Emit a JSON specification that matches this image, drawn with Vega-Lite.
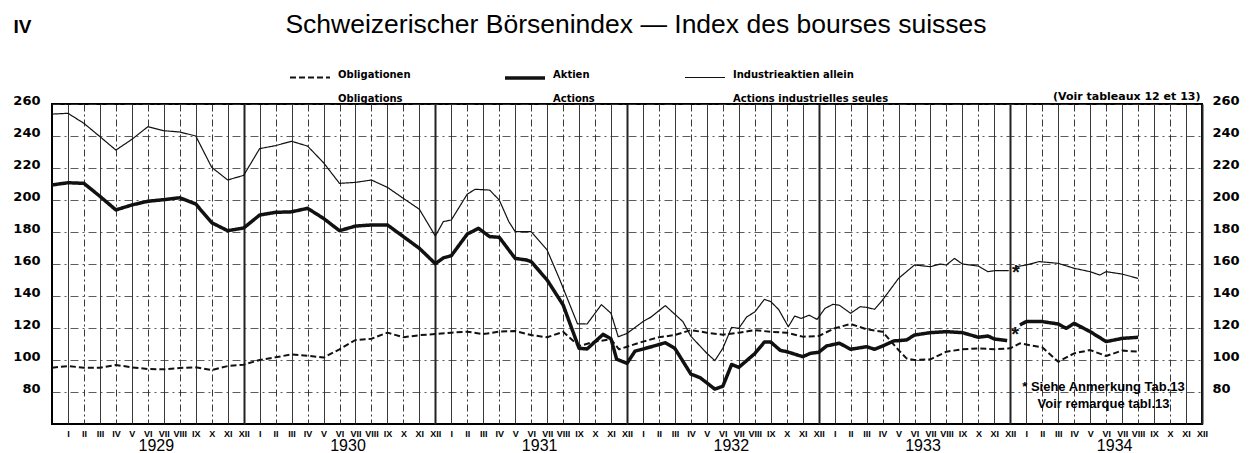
{
  "$schema": "https://vega.github.io/schema/vega-lite/v6.json",
  "width": 1150,
  "height": 320,
  "autosize": {"type": "none"},
  "padding": {"left": 52, "top": 104, "right": 57, "bottom": 29},
  "background": "white",
  "config": {
    "view": {"stroke": "black", "strokeWidth": 2},
    "font": "Liberation Sans",
    "style": {"guide-label": {"lineHeight": 24}}
  },
  "title": {
    "text": "Schweizerischer Börsenindex — Index des bourses suisses",
    "font": "Liberation Sans",
    "fontSize": 26.5,
    "fontWeight": "normal",
    "color": "black",
    "anchor": "middle",
    "frame": "group",
    "baseline": "alphabetic",
    "offset": -42,
    "dx": 9
  },
  "datasets": {
    "lines": [
      {"s":"Obligationen","seg":"a","m":0,"v":95.2},{"s":"Obligationen","seg":"a","m":1,"v":96.2},{"s":"Obligationen","seg":"a","m":2,"v":95.2},{"s":"Obligationen","seg":"a","m":3,"v":95.2},{"s":"Obligationen","seg":"a","m":4,"v":96.9},{"s":"Obligationen","seg":"a","m":5,"v":95.4},{"s":"Obligationen","seg":"a","m":6,"v":94.4},{"s":"Obligationen","seg":"a","m":7,"v":94.2},{"s":"Obligationen","seg":"a","m":8,"v":95},{"s":"Obligationen","seg":"a","m":9,"v":95.4},{"s":"Obligationen","seg":"a","m":10,"v":93.7},{"s":"Obligationen","seg":"a","m":11,"v":96.2},{"s":"Obligationen","seg":"a","m":12,"v":97.1},{"s":"Obligationen","seg":"a","m":13,"v":100},{"s":"Obligationen","seg":"a","m":14,"v":101.7},{"s":"Obligationen","seg":"a","m":15,"v":103.5},{"s":"Obligationen","seg":"a","m":16,"v":102.7},{"s":"Obligationen","seg":"a","m":17,"v":101.5},{"s":"Obligationen","seg":"a","m":18,"v":106.7},{"s":"Obligationen","seg":"a","m":19,"v":112.5},{"s":"Obligationen","seg":"a","m":20,"v":113.3},{"s":"Obligationen","seg":"a","m":21,"v":117.1},{"s":"Obligationen","seg":"a","m":22,"v":114.2},{"s":"Obligationen","seg":"a","m":23,"v":115.5},{"s":"Obligationen","seg":"a","m":24,"v":116.2},{"s":"Obligationen","seg":"a","m":25,"v":117.1},{"s":"Obligationen","seg":"a","m":26,"v":117.7},{"s":"Obligationen","seg":"a","m":27,"v":116.2},{"s":"Obligationen","seg":"a","m":28,"v":117.7},{"s":"Obligationen","seg":"a","m":29,"v":118.1},{"s":"Obligationen","seg":"a","m":30,"v":115.6},{"s":"Obligationen","seg":"a","m":31,"v":114.2},{"s":"Obligationen","seg":"a","m":32,"v":117.6},{"s":"Obligationen","seg":"a","m":33,"v":108.7},{"s":"Obligationen","seg":"a","m":34,"v":111.5},{"s":"Obligationen","seg":"a","m":35,"v":112.9},{"s":"Obligationen","seg":"a","m":35.5,"v":106.7},{"s":"Obligationen","seg":"a","m":36,"v":108.3},{"s":"Obligationen","seg":"a","m":37,"v":111.5},{"s":"Obligationen","seg":"a","m":38,"v":114.2},{"s":"Obligationen","seg":"a","m":39,"v":115.6},{"s":"Obligationen","seg":"a","m":40,"v":118.7},{"s":"Obligationen","seg":"a","m":41,"v":117.1},{"s":"Obligationen","seg":"a","m":42,"v":115.8},{"s":"Obligationen","seg":"a","m":43,"v":117.1},{"s":"Obligationen","seg":"a","m":44,"v":118.7},{"s":"Obligationen","seg":"a","m":45,"v":117.6},{"s":"Obligationen","seg":"a","m":46,"v":117},{"s":"Obligationen","seg":"a","m":47,"v":114.6},{"s":"Obligationen","seg":"a","m":48,"v":115},{"s":"Obligationen","seg":"a","m":49,"v":119.8},{"s":"Obligationen","seg":"a","m":50,"v":122.5},{"s":"Obligationen","seg":"a","m":51,"v":119.2},{"s":"Obligationen","seg":"a","m":52,"v":117.7},{"s":"Obligationen","seg":"a","m":53,"v":106.2},{"s":"Obligationen","seg":"a","m":53.5,"v":101},{"s":"Obligationen","seg":"a","m":54,"v":100},{"s":"Obligationen","seg":"a","m":55,"v":100.4},{"s":"Obligationen","seg":"a","m":56,"v":105.2},{"s":"Obligationen","seg":"a","m":57,"v":106.7},{"s":"Obligationen","seg":"a","m":58,"v":107.3},{"s":"Obligationen","seg":"a","m":59,"v":106.7},{"s":"Obligationen","seg":"a","m":60,"v":107.3},{"s":"Obligationen","seg":"a","m":60.6,"v":110.4},{"s":"Obligationen","seg":"a","m":62,"v":107.9},{"s":"Obligationen","seg":"a","m":63,"v":98.9},{"s":"Obligationen","seg":"a","m":64,"v":104.2},{"s":"Obligationen","seg":"a","m":65,"v":106.2},{"s":"Obligationen","seg":"a","m":66,"v":102.5},{"s":"Obligationen","seg":"a","m":67,"v":105.9},{"s":"Obligationen","seg":"a","m":68,"v":105.2},

      {"s":"Aktien","seg":"a","m":0,"v":209.4},{"s":"Aktien","seg":"a","m":1,"v":210.8},{"s":"Aktien","seg":"a","m":2,"v":210.4},{"s":"Aktien","seg":"a","m":3,"v":202.3},{"s":"Aktien","seg":"a","m":4,"v":193.8},{"s":"Aktien","seg":"a","m":5,"v":196.9},{"s":"Aktien","seg":"a","m":6,"v":199.2},{"s":"Aktien","seg":"a","m":7,"v":200.2},{"s":"Aktien","seg":"a","m":8,"v":201.4},{"s":"Aktien","seg":"a","m":9,"v":197.5},{"s":"Aktien","seg":"a","m":10,"v":185.8},{"s":"Aktien","seg":"a","m":11,"v":180.8},{"s":"Aktien","seg":"a","m":12,"v":182.5},{"s":"Aktien","seg":"a","m":13,"v":190.6},{"s":"Aktien","seg":"a","m":14,"v":192.3},{"s":"Aktien","seg":"a","m":15,"v":192.6},{"s":"Aktien","seg":"a","m":16,"v":194.8},{"s":"Aktien","seg":"a","m":17,"v":188.5},{"s":"Aktien","seg":"a","m":18,"v":180.8},{"s":"Aktien","seg":"a","m":19,"v":183.7},{"s":"Aktien","seg":"a","m":20,"v":184.4},{"s":"Aktien","seg":"a","m":21,"v":184.4},{"s":"Aktien","seg":"a","m":22,"v":177.1},{"s":"Aktien","seg":"a","m":23,"v":169.8},{"s":"Aktien","seg":"a","m":24,"v":160.2},{"s":"Aktien","seg":"a","m":24.5,"v":163.8},{"s":"Aktien","seg":"a","m":25,"v":165.2},{"s":"Aktien","seg":"a","m":26,"v":178.7},{"s":"Aktien","seg":"a","m":26.7,"v":182.3},{"s":"Aktien","seg":"a","m":27.4,"v":177.1},{"s":"Aktien","seg":"a","m":28,"v":176.7},{"s":"Aktien","seg":"a","m":29,"v":163.5},{"s":"Aktien","seg":"a","m":29.7,"v":162.5},{"s":"Aktien","seg":"a","m":30,"v":161.5},{"s":"Aktien","seg":"a","m":31,"v":150},{"s":"Aktien","seg":"a","m":32,"v":134.4},{"s":"Aktien","seg":"a","m":33,"v":107.3},{"s":"Aktien","seg":"a","m":33.5,"v":106.9},{"s":"Aktien","seg":"a","m":34.5,"v":116},{"s":"Aktien","seg":"a","m":35,"v":113.2},{"s":"Aktien","seg":"a","m":35.35,"v":100.5},{"s":"Aktien","seg":"a","m":36,"v":97.9},{"s":"Aktien","seg":"a","m":36.5,"v":105.5},{"s":"Aktien","seg":"a","m":37.6,"v":108.5},{"s":"Aktien","seg":"a","m":38.4,"v":110.8},{"s":"Aktien","seg":"a","m":39,"v":107.2},{"s":"Aktien","seg":"a","m":40,"v":91.2},{"s":"Aktien","seg":"a","m":40.6,"v":88.8},{"s":"Aktien","seg":"a","m":41.5,"v":81.8},{"s":"Aktien","seg":"a","m":42,"v":83.6},{"s":"Aktien","seg":"a","m":42.55,"v":97.2},{"s":"Aktien","seg":"a","m":43,"v":95.4},{"s":"Aktien","seg":"a","m":44,"v":104},{"s":"Aktien","seg":"a","m":44.6,"v":111.2},{"s":"Aktien","seg":"a","m":45,"v":111.2},{"s":"Aktien","seg":"a","m":45.6,"v":106},{"s":"Aktien","seg":"a","m":46,"v":105.2},{"s":"Aktien","seg":"a","m":47,"v":102.1},{"s":"Aktien","seg":"a","m":47.5,"v":104.2},{"s":"Aktien","seg":"a","m":48,"v":104.8},{"s":"Aktien","seg":"a","m":48.5,"v":108.8},{"s":"Aktien","seg":"a","m":49.3,"v":110.5},{"s":"Aktien","seg":"a","m":50,"v":106.7},{"s":"Aktien","seg":"a","m":51,"v":108.3},{"s":"Aktien","seg":"a","m":51.5,"v":106.7},{"s":"Aktien","seg":"a","m":52,"v":108.7},{"s":"Aktien","seg":"a","m":52.7,"v":111.9},{"s":"Aktien","seg":"a","m":53.5,"v":112.5},{"s":"Aktien","seg":"a","m":54,"v":115.6},{"s":"Aktien","seg":"a","m":55,"v":117.1},{"s":"Aktien","seg":"a","m":56,"v":117.7},{"s":"Aktien","seg":"a","m":57,"v":117.1},{"s":"Aktien","seg":"a","m":58,"v":114.2},{"s":"Aktien","seg":"a","m":58.6,"v":115},{"s":"Aktien","seg":"a","m":59,"v":113.1},{"s":"Aktien","seg":"a","m":59.8,"v":112.1},
      {"s":"Aktien","seg":"b","m":60.6,"v":121.9},{"s":"Aktien","seg":"b","m":61,"v":124},{"s":"Aktien","seg":"b","m":62,"v":124},{"s":"Aktien","seg":"b","m":63,"v":122.5},{"s":"Aktien","seg":"b","m":63.5,"v":119.8},{"s":"Aktien","seg":"b","m":64,"v":122.9},{"s":"Aktien","seg":"b","m":65,"v":117.7},{"s":"Aktien","seg":"b","m":66,"v":111.5},{"s":"Aktien","seg":"b","m":67,"v":113.5},{"s":"Aktien","seg":"b","m":68,"v":114.2},

      {"s":"Industrieaktien allein","seg":"a","m":0,"v":253.7},{"s":"Industrieaktien allein","seg":"a","m":1,"v":254.2},{"s":"Industrieaktien allein","seg":"a","m":2,"v":247.9},{"s":"Industrieaktien allein","seg":"a","m":3,"v":239.6},{"s":"Industrieaktien allein","seg":"a","m":4,"v":231.2},{"s":"Industrieaktien allein","seg":"a","m":5,"v":237.9},{"s":"Industrieaktien allein","seg":"a","m":6,"v":245.8},{"s":"Industrieaktien allein","seg":"a","m":7,"v":243.3},{"s":"Industrieaktien allein","seg":"a","m":8,"v":242.5},{"s":"Industrieaktien allein","seg":"a","m":9,"v":240},{"s":"Industrieaktien allein","seg":"a","m":10,"v":220.4},{"s":"Industrieaktien allein","seg":"a","m":11,"v":212.5},{"s":"Industrieaktien allein","seg":"a","m":12,"v":215.4},{"s":"Industrieaktien allein","seg":"a","m":13,"v":232.1},{"s":"Industrieaktien allein","seg":"a","m":14,"v":234},{"s":"Industrieaktien allein","seg":"a","m":15,"v":236.7},{"s":"Industrieaktien allein","seg":"a","m":16,"v":233.7},{"s":"Industrieaktien allein","seg":"a","m":17,"v":223.3},{"s":"Industrieaktien allein","seg":"a","m":18,"v":210.4},{"s":"Industrieaktien allein","seg":"a","m":19,"v":211},{"s":"Industrieaktien allein","seg":"a","m":20,"v":212.5},{"s":"Industrieaktien allein","seg":"a","m":21,"v":207.9},{"s":"Industrieaktien allein","seg":"a","m":22,"v":201},{"s":"Industrieaktien allein","seg":"a","m":23,"v":194.2},{"s":"Industrieaktien allein","seg":"a","m":24,"v":177.5},{"s":"Industrieaktien allein","seg":"a","m":24.5,"v":186.5},{"s":"Industrieaktien allein","seg":"a","m":25,"v":187.5},{"s":"Industrieaktien allein","seg":"a","m":26,"v":203.7},{"s":"Industrieaktien allein","seg":"a","m":26.5,"v":206.7},{"s":"Industrieaktien allein","seg":"a","m":27.4,"v":206.2},{"s":"Industrieaktien allein","seg":"a","m":28,"v":200},{"s":"Industrieaktien allein","seg":"a","m":28.6,"v":186.5},{"s":"Industrieaktien allein","seg":"a","m":29,"v":180.2},{"s":"Industrieaktien allein","seg":"a","m":30,"v":180.2},{"s":"Industrieaktien allein","seg":"a","m":31,"v":168.7},{"s":"Industrieaktien allein","seg":"a","m":31.8,"v":150},{"s":"Industrieaktien allein","seg":"a","m":32.9,"v":122.6},{"s":"Industrieaktien allein","seg":"a","m":33.5,"v":122.5},{"s":"Industrieaktien allein","seg":"a","m":34.4,"v":134.6},{"s":"Industrieaktien allein","seg":"a","m":35,"v":129.2},{"s":"Industrieaktien allein","seg":"a","m":35.45,"v":114.5},{"s":"Industrieaktien allein","seg":"a","m":36,"v":116.6},{"s":"Industrieaktien allein","seg":"a","m":37,"v":124},{"s":"Industrieaktien allein","seg":"a","m":37.5,"v":126.8},{"s":"Industrieaktien allein","seg":"a","m":38.4,"v":134},{"s":"Industrieaktien allein","seg":"a","m":39.5,"v":124},{"s":"Industrieaktien allein","seg":"a","m":40,"v":114.8},{"s":"Industrieaktien allein","seg":"a","m":41,"v":104.2},{"s":"Industrieaktien allein","seg":"a","m":41.5,"v":99.6},{"s":"Industrieaktien allein","seg":"a","m":42,"v":107.3},{"s":"Industrieaktien allein","seg":"a","m":42.55,"v":120.4},{"s":"Industrieaktien allein","seg":"a","m":43,"v":119.8},{"s":"Industrieaktien allein","seg":"a","m":43.5,"v":127},{"s":"Industrieaktien allein","seg":"a","m":44,"v":130},{"s":"Industrieaktien allein","seg":"a","m":44.6,"v":137.9},{"s":"Industrieaktien allein","seg":"a","m":45,"v":136.5},{"s":"Industrieaktien allein","seg":"a","m":45.5,"v":131.5},{"s":"Industrieaktien allein","seg":"a","m":46.1,"v":120.8},{"s":"Industrieaktien allein","seg":"a","m":46.5,"v":127.5},{"s":"Industrieaktien allein","seg":"a","m":46.9,"v":126},{"s":"Industrieaktien allein","seg":"a","m":47.4,"v":128},{"s":"Industrieaktien allein","seg":"a","m":47.9,"v":125.4},{"s":"Industrieaktien allein","seg":"a","m":48.4,"v":132.3},{"s":"Industrieaktien allein","seg":"a","m":48.9,"v":134.8},{"s":"Industrieaktien allein","seg":"a","m":49.3,"v":134.2},{"s":"Industrieaktien allein","seg":"a","m":50,"v":129.2},{"s":"Industrieaktien allein","seg":"a","m":50.6,"v":133.3},{"s":"Industrieaktien allein","seg":"a","m":51,"v":132.9},{"s":"Industrieaktien allein","seg":"a","m":51.5,"v":131.7},{"s":"Industrieaktien allein","seg":"a","m":52,"v":137.5},{"s":"Industrieaktien allein","seg":"a","m":53,"v":151},{"s":"Industrieaktien allein","seg":"a","m":54,"v":159.4},{"s":"Industrieaktien allein","seg":"a","m":55,"v":158.3},{"s":"Industrieaktien allein","seg":"a","m":55.6,"v":160},{"s":"Industrieaktien allein","seg":"a","m":56,"v":159.4},{"s":"Industrieaktien allein","seg":"a","m":56.5,"v":163.5},{"s":"Industrieaktien allein","seg":"a","m":57,"v":160},{"s":"Industrieaktien allein","seg":"a","m":58,"v":158.7},{"s":"Industrieaktien allein","seg":"a","m":58.6,"v":155.2},{"s":"Industrieaktien allein","seg":"a","m":59,"v":155.8},{"s":"Industrieaktien allein","seg":"a","m":59.9,"v":155.8},
      {"s":"Industrieaktien allein","seg":"b","m":60.35,"v":158.3},{"s":"Industrieaktien allein","seg":"b","m":61,"v":159.4},{"s":"Industrieaktien allein","seg":"b","m":61.8,"v":161.5},{"s":"Industrieaktien allein","seg":"b","m":63,"v":160.4},{"s":"Industrieaktien allein","seg":"b","m":64,"v":157.3},{"s":"Industrieaktien allein","seg":"b","m":65,"v":155.2},{"s":"Industrieaktien allein","seg":"b","m":65.6,"v":153.1},{"s":"Industrieaktien allein","seg":"b","m":66,"v":155.2},{"s":"Industrieaktien allein","seg":"b","m":67,"v":153.7},{"s":"Industrieaktien allein","seg":"b","m":68,"v":151}
    ],
    "stars": [
      {"m": 60.35, "v": 158.3},
      {"m": 60.3, "v": 119.2}
    ]
  },
  "encoding": {
    "x": {
      "field": "m",
      "type": "quantitative",
      "scale": {"domain": [0, 72], "nice": false, "zero": false},
      "axis": {
        "values": [1,2,3,4,5,6,7,8,9,10,11,12,13,14,15,16,17,18,19,20,21,22,23,24,25,26,27,28,29,30,31,32,33,34,35,36,37,38,39,40,41,42,43,44,45,46,47,48,49,50,51,52,53,54,55,56,57,58,59,60,61,62,63,64,65,66,67,68,69,70,71,72,6.5,18.5,30.5,42.5,54.5,66.5],
        "labelExpr": "datum.value % 1 != 0 ? '' + (1928 + ceil(datum.value / 12)) : ['XII','I','II','III','IV','V','VI','VII','VIII','IX','X','XI'][datum.value % 12]",
        "labelFont": "Liberation Sans",
        "labelColor": "black",
        "labelFontSize": {"condition": {"test": "datum.value % 1 != 0", "value": 16}, "value": 9},
        "labelFontWeight": {"condition": {"test": "datum.value % 1 != 0", "value": "normal"}, "value": "bold"},
        "labelPadding": {"condition": {"test": "datum.value % 1 != 0", "value": 13}, "value": 5},
        "labelOverlap": false,
        "labelFlush": false,
        "labelBound": false,
        "grid": true,
        "gridColor": "#222",
        "gridOpacity": {"condition": {"test": "datum.value % 1 != 0", "value": 0}, "value": 1},
        "gridWidth": {"condition": {"test": "datum.value % 12 == 0", "value": 2}, "value": 0.9},
        "gridDash": {"condition": {"test": "datum.value % 2 == 0 && datum.value % 12 != 0", "value": [7, 3, 2, 3]}, "value": []},
        "ticks": false,
        "domain": false,
        "title": ["* Siehe Anmerkung Tab.13", "Voir remarque tabl.13"],
        "titleFont": "Liberation Sans",
        "titleFontSize": 13,
        "titleFontWeight": "bold",
        "titleColor": "black",
        "titleAlign": "center",
        "titleBaseline": "alphabetic",
        "titleLineHeight": 17,
        "titleX": 1051,
        "titleY": -34
      }
    }
  },
  "layer": [
    {
      "data": {"name": "lines"},
      "mark": {"type": "line", "strokeJoin": "round", "strokeCap": "butt"},
      "encoding": {
        "y": {
          "field": "v",
          "type": "quantitative",
          "scale": {"domain": [60, 260], "nice": false, "zero": false},
          "axis": {
            "orient": "left",
            "values": [80, 100, 120, 140, 160, 180, 200, 220, 240, 260],
            "grid": true,
            "gridColor": "#333",
            "gridWidth": 0.8,
            "gridDash": [8, 4, 2, 4],
            "domain": false,
            "ticks": false,
            "labelFont": "DejaVu Sans",
            "labelFontWeight": "bold",
            "labelFontSize": 13,
            "labelColor": "black",
            "labelPadding": 12,
            "labelOffset": -4,
            "title": "IV",
            "titleAngle": 0,
            "titleFont": "Liberation Sans",
            "titleFontSize": 19,
            "titleFontWeight": "bold",
            "titleColor": "black",
            "titleAlign": "left",
            "titleBaseline": "alphabetic",
            "titleX": -39,
            "titleY": -72
          }
        },
        "detail": {"field": "seg"},
        "color": {
          "field": "s",
          "type": "nominal",
          "scale": {"domain": ["Obligationen", "Aktien", "Industrieaktien allein"], "range": ["#111", "#111", "#111"]},
          "legend": {
            "orient": "none",
            "legendX": 236,
            "legendY": -48,
            "direction": "horizontal",
            "columns": 3,
            "columnPadding": 87,
            "title": null,
            "symbolType": "stroke",
            "symbolSize": 1600,
            "labelFont": "DejaVu Sans",
            "labelFontWeight": "bold",
            "labelFontSize": 10,
            "labelColor": "black",
            "labelBaseline": "alphabetic",
            "labelOffset": 6,
            "labelExpr": "datum.label == 'Obligationen' ? ['Obligationen', 'Obligations'] : datum.label == 'Aktien' ? ['Aktien', 'Actions'] : ['Industrieaktien allein', 'Actions industrielles seules']"
          }
        },
        "strokeDash": {
          "field": "s",
          "type": "nominal",
          "scale": {"type": "ordinal", "domain": ["Obligationen", "Aktien", "Industrieaktien allein"], "range": [[6, 3], [1, 0], [1, 0]]}
        },
        "strokeWidth": {
          "field": "s",
          "type": "nominal",
          "scale": {"type": "ordinal", "domain": ["Obligationen", "Aktien", "Industrieaktien allein"], "range": [2, 3.5, 1.2]}
        }
      }
    },
    {
      "data": {"name": "stars"},
      "mark": {"type": "text", "text": "*", "font": "Liberation Sans", "fontSize": 20, "fontWeight": "bold", "dy": 6, "color": "#111"},
      "encoding": {
        "y": {
          "field": "v",
          "type": "quantitative",
          "scale": {"domain": [60, 260], "nice": false, "zero": false},
          "axis": {
            "orient": "right",
            "values": [80, 100, 120, 140, 160, 180, 200, 220, 240, 260],
            "grid": false,
            "domain": false,
            "ticks": false,
            "labelFont": "DejaVu Sans",
            "labelFontWeight": "bold",
            "labelFontSize": 13,
            "labelColor": "black",
            "labelPadding": 10,
            "labelOffset": -4,
            "title": "(Voir tableaux 12 et 13)",
            "titleAngle": 0,
            "titleFont": "DejaVu Sans",
            "titleFontSize": 11,
            "titleFontWeight": "bold",
            "titleColor": "black",
            "titleAlign": "right",
            "titleBaseline": "alphabetic",
            "titleX": -2,
            "titleY": -5
          }
        }
      }
    }
  ],
  "resolve": {"axis": {"y": "independent"}}
}
